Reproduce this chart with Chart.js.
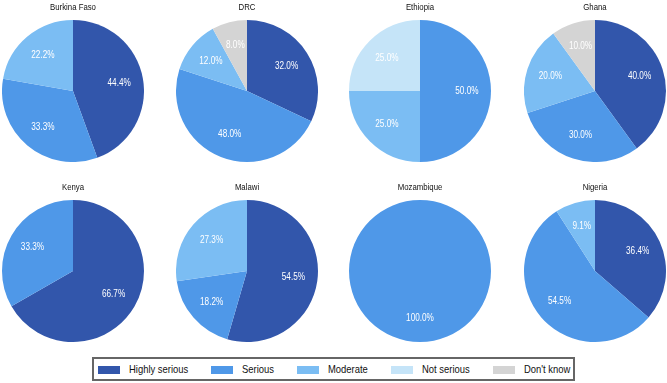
<!DOCTYPE html>
<html>
<head>
<meta charset="utf-8">
<script src="https://cdn.jsdelivr.net/npm/chart.js@4.4.1/dist/chart.umd.min.js"></script>
<style>
  html, body { margin: 0; padding: 0; background: #fff; }
  #wrap { position: relative; width: 667px; height: 383px; overflow: hidden;
    font-family: "Liberation Sans", Arial, sans-serif; }
  .pie { position: absolute; width: 142px; height: 162px; }
  #legend { position: absolute; left: 92px; top: 357px; width: 483px; height: 24px;
    border: 2px solid #666; box-sizing: border-box; font-size: 11.5px; color: #111; }
  .swatch { position: absolute; top: 7px; width: 22px; height: 8px; }
  .label { position: absolute; top: 3px; white-space: nowrap; transform: scaleX(0.82);
    transform-origin: left center; line-height: 15px; }
</style>
</head>
<body>
<div id="wrap">
  <div id="legend"></div>
</div>
<script>
const countries = ["Burkina Faso", "DRC", "Ethiopia", "Ghana", "Kenya", "Malawi", "Mozambique", "Nigeria"];
const categories = ["Highly serious", "Serious", "Moderate", "Not serious", "Don't know"];
const colors = ["#3256AB", "#4F98E8", "#7BBDF3", "#C5E4F8", "#D4D4D4"];

// percent of respondents per country, in the order of countries
const highlySerious = [44.4, 32.0, 0, 40.0, 66.7, 54.5, 0, 36.4];
const serious = [33.3, 48.0, 50.0, 30.0, 33.3, 18.2, 100.0, 54.5];
const moderate = [22.2, 12.0, 25.0, 20.0, 0, 27.3, 0, 9.1];
const notSerious = [0, 0, 25.0, 0, 0, 0, 0, 0];
const dontKnow = [0, 8.0, 0, 10.0, 0, 0, 0, 0];

const centersX = [73, 246.5, 420, 594.5];
const FONT = "'Liberation Sans', Arial, sans-serif";
const NARROW = 0.82; // the original uses a condensed face

function narrowText(ctx, text, x, y) {
  ctx.save();
  ctx.translate(x, y);
  ctx.scale(NARROW, 1);
  ctx.fillText(text, 0, 0);
  ctx.restore();
}

// country name on top, percentage inside each slice two thirds of the way out
const pieText = {
  id: "pieText",
  afterDatasetsDraw(chart, args, opts) {
    const ctx = chart.ctx;
    const meta = chart.getDatasetMeta(0);
    const values = chart.data.datasets[0].data;
    ctx.save();
    ctx.textAlign = "center";
    ctx.textBaseline = "middle";
    ctx.fillStyle = "#111";
    ctx.font = "9.5px " + FONT;
    narrowText(ctx, opts.title, chart.width / 2, 7);
    ctx.fillStyle = "#fff";
    ctx.font = "10px " + FONT;
    meta.data.forEach((arc, i) => {
      if (!values[i]) return;
      const p = arc.getProps(["x", "y", "startAngle", "endAngle", "outerRadius"], true);
      const mid = (p.startAngle + p.endAngle) / 2;
      const r = p.outerRadius * 0.66;
      narrowText(ctx, values[i].toFixed(1) + "%", p.x + Math.cos(mid) * r, p.y + Math.sin(mid) * r);
    });
    ctx.restore();
  },
};

const wrap = document.getElementById("wrap");

countries.forEach((country, i) => {
  const box = document.createElement("div");
  box.className = "pie";
  box.style.left = (centersX[i % 4] - 71) + "px";
  box.style.top = (Math.floor(i / 4) * 180) + "px";
  const canvas = document.createElement("canvas");
  box.appendChild(canvas);
  wrap.appendChild(box);

  new Chart(canvas, {
    type: "pie",
    data: {
      labels: categories,
      datasets: [{
        data: [highlySerious[i], serious[i], moderate[i], notSerious[i], dontKnow[i]],
        backgroundColor: colors,
        borderWidth: 0,
      }],
    },
    options: {
      responsive: true,
      maintainAspectRatio: false,
      animation: false,
      layout: { padding: { top: 20 } },
      plugins: {
        legend: { display: false },
        tooltip: { enabled: false },
        title: { display: false },
        pieText: { title: country },
      },
    },
    plugins: [pieText],
  });
});

// shared legend, laid out left to right from the measured text widths
const legend = document.getElementById("legend");
let x = 4;
categories.forEach((cat, i) => {
  const sw = document.createElement("span");
  sw.className = "swatch";
  sw.style.background = colors[i];
  sw.style.left = x + "px";
  legend.appendChild(sw);
  const lb = document.createElement("span");
  lb.className = "label";
  lb.textContent = cat;
  lb.style.left = (x + 31) + "px";
  legend.appendChild(lb);
  x += 31 + lb.getBoundingClientRect().width + 23;
});
</script>
</body>
</html>
